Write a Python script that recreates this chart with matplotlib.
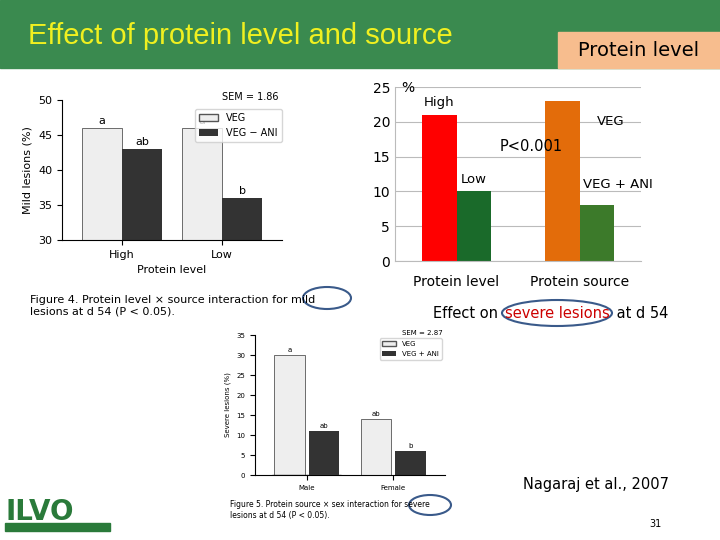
import matplotlib
matplotlib.use("Agg")
import matplotlib.pyplot as plt
import numpy as np
from matplotlib.patches import Rectangle, Ellipse

# main chart data
groups = ["Protein level", "Protein source"]
first_vals = [21, 23]
second_vals = [10, 8]
first_labels = ["High", "VEG"]
second_labels = ["Low", "VEG + ANI"]
yticks = [0, 5, 10, 15, 20, 25]

# mild lesions chart
mild_cats = ["High", "Low"]
mild_veg = [46, 46]
mild_ani = [43, 36]
mild_letters_veg = ["a", "a"]
mild_letters_ani = ["ab", "b"]

# severe lesions chart
sev_cats = ["Male", "Female"]
sev_veg = [30, 14]
sev_ani = [11, 6]
sev_letters_veg = ["a", "ab"]
sev_letters_ani = ["ab", "b"]

W, H = 720, 540
fig = plt.figure(figsize=(7.2, 5.4), dpi=100)
fig.patch.set_facecolor("white")

def ax_px(x, y, w, h):
    return fig.add_axes([x / W, 1 - (y + h) / H, w / W, h / H])

# header
bg = fig.add_axes([0, 0, 1, 1]); bg.set_xlim(0, W); bg.set_ylim(H, 0); bg.axis("off")
bg.add_patch(Rectangle((0, 0), W, 68, color="#3a8a4f"))
bg.add_patch(Rectangle((558, 32), 162, 36, color="#f7bd8e"))
bg.text(28, 36, "Effect of protein level and source", color="#f0f020", fontsize=21,
        family="Liberation Sans", va="center")
bg.text(639, 50, "Protein level", color="black", fontsize=14, ha="center", va="center")
bg.text(433, 313, "Effect on ", fontsize=10.5, ha="left", va="center")
t = bg.text(505, 313, "severe lesions", fontsize=10.5, color="#cc0000", ha="left", va="center")
bg.text(612, 313, " at d 54", fontsize=10.5, ha="left", va="center")
bg.add_patch(Ellipse((557, 313), 110, 26, fill=False, ec="#3a5a8a", lw=1.5))
bg.text(596, 484, "Nagaraj et al., 2007", fontsize=10.5, ha="center", va="center")
bg.text(655, 524, "31", fontsize=7, ha="center", va="center")
bg.text(30, 306, "Figure 4. Protein level × source interaction for mild\nlesions at d 54 (P < 0.05).",
        fontsize=8, va="center")
bg.add_patch(Ellipse((327, 298), 48, 22, fill=False, ec="#3a5a8a", lw=1.5))
bg.text(230, 510, "Figure 5. Protein source × sex interaction for severe\nlesions at d 54 (P < 0.05).",
        fontsize=5.5, va="center")
bg.add_patch(Ellipse((430, 505), 42, 20, fill=False, ec="#3a5a8a", lw=1.5))
bg.text(5, 512, "ILVO", fontsize=20, color="#2a7a3a", va="center", weight="bold")
bg.add_patch(Rectangle((5, 523), 105, 8, color="#2a7a3a"))

# main chart
ax = ax_px(395, 87, 246, 174)
x = np.arange(len(groups))
w = 0.28
ax.bar(x - w / 2, first_vals, w, color=["#ff0000", "#e36c0a"], zorder=2)
ax.bar(x + w / 2, second_vals, w, color=["#1a6a2a", "#3c7a2a"], zorder=2)
ax.set_ylim(0, 25)
ax.set_yticks(yticks)
ax.set_xlim(-0.5, 1.5)
ax.set_xticks(x); ax.set_xticklabels(groups, fontsize=10)
ax.tick_params(axis="both", length=0, labelsize=10)
ax.tick_params(axis="x", pad=10)
ax.yaxis.grid(True, color="#bbbbbb", lw=0.8); ax.set_axisbelow(True)
for s in ["top", "right"]:
    ax.spines[s].set_visible(False)
ax.spines["left"].set_color("#bbbbbb"); ax.spines["bottom"].set_color("#bbbbbb")
ax.text(x[0] - w / 2, first_vals[0] + 1.2, first_labels[0], ha="center", fontsize=9.5)
ax.text(x[0] + w / 2, second_vals[0] + 1.2, second_labels[0], ha="center", fontsize=9.5)
ax.text(x[1] + w * 0.9, 19.5, first_labels[1], ha="center", fontsize=9.5)
ax.text(x[1] + w * 1.1, 10.5, second_labels[1], ha="center", fontsize=9.5)
ax.text(0.35, 15.8, "P<0.001", fontsize=10.5)
ax.text(-0.45, 24.3, "%", fontsize=10)

# mild lesions chart
am = ax_px(62, 100, 220, 140)
xm = np.arange(2)
am.bar(xm - 0.2, mild_veg, 0.4, color="#eeeeee", ec="#555555", lw=0.6)
am.bar(xm + 0.2, mild_ani, 0.4, color="#333333")
am.set_ylim(30, 50); am.set_yticks([30, 35, 40, 45, 50]); am.set_xlim(-0.6, 1.6)
am.set_xticks(xm); am.set_xticklabels(mild_cats, fontsize=8)
am.tick_params(labelsize=8)
am.set_ylabel("Mild lesions (%)", fontsize=8); am.set_xlabel("Protein level", fontsize=8)
for i in range(2):
    am.text(xm[i] - 0.2, mild_veg[i] + 0.6, mild_letters_veg[i], ha="center", fontsize=8)
    am.text(xm[i] + 0.2, mild_ani[i] + 0.6, mild_letters_ani[i], ha="center", fontsize=8)
for s in ["top", "right"]:
    am.spines[s].set_visible(False)
am.text(1.0, 50, "SEM = 1.86", fontsize=7)
am.bar([0], [0], color="#eeeeee", ec="#555555", label="VEG")
am.bar([0], [0], color="#333333", label="VEG − ANI")
am.legend(loc="upper right", bbox_to_anchor=(1.02, 0.97), fontsize=7, frameon=True)

# severe lesions chart
asv = ax_px(255, 335, 190, 140)
xs = np.arange(2)
asv.bar(xs - 0.2, sev_veg, 0.35, color="#eeeeee", ec="#555555", lw=0.6)
asv.bar(xs + 0.2, sev_ani, 0.35, color="#333333")
asv.set_ylim(0, 35); asv.set_yticks(range(0, 36, 5)); asv.set_xlim(-0.6, 1.6)
asv.set_xticks(xs); asv.set_xticklabels(sev_cats, fontsize=5)
asv.tick_params(labelsize=5)
asv.set_ylabel("Severe lesions (%)", fontsize=5)
for i in range(2):
    asv.text(xs[i] - 0.2, sev_veg[i] + 0.8, sev_letters_veg[i], ha="center", fontsize=5)
    asv.text(xs[i] + 0.2, sev_ani[i] + 0.8, sev_letters_ani[i], ha="center", fontsize=5)
for s in ["top", "right"]:
    asv.spines[s].set_visible(False)
asv.text(1.1, 35, "SEM = 2.87", fontsize=5)
asv.bar([0], [0], color="#eeeeee", ec="#555555", label="VEG")
asv.bar([0], [0], color="#333333", label="VEG + ANI")
asv.legend(loc="upper right", fontsize=5, frameon=True)

fig.savefig("out.png", dpi=100)
